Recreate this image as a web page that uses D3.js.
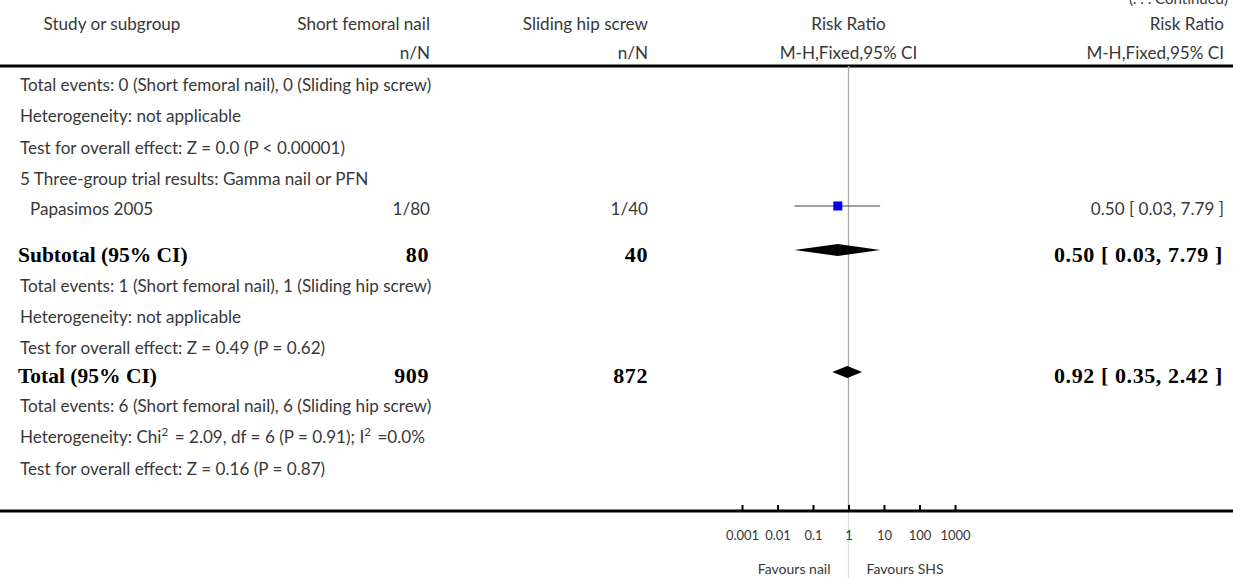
<!DOCTYPE html>
<html><head><meta charset="utf-8">
<script src="https://cdn.jsdelivr.net/npm/d3@7"></script>
<style>
html,body{margin:0;padding:0;background:#fff;}
svg{display:block;}
</style></head>
<body>
<svg id="c" width="1233" height="578"></svg>
<script>
// ---- data ----
const headerCols = ["Study or subgroup", "Short femoral nail", "Sliding hip screw", "Risk Ratio", "Risk Ratio"];
const headerSub = ["", "n/N", "n/N", "M-H,Fixed,95% CI", "M-H,Fixed,95% CI"];

const studyNames = ["Papasimos 2005"];
const studyNail = ["1/80"];
const studySHS = ["1/40"];
const studyRR = [0.50];
const studyLo = [0.03];
const studyHi = [7.79];
const studyCI = ["0.50 [ 0.03, 7.79 ]"];

const summaryLabels = ["Subtotal (95% CI)", "Total (95% CI)"];
const summaryNail = ["80", "909"];
const summarySHS = ["40", "872"];
const summaryRR = [0.50, 0.92];
const summaryLo = [0.03, 0.35];
const summaryHi = [7.79, 2.42];
const summaryCI = ["0.50 [ 0.03, 7.79 ]", "0.92 [ 0.35, 2.42 ]"];

const noteLines = [
  "Total events: 0 (Short femoral nail), 0 (Sliding hip screw)",
  "Heterogeneity: not applicable",
  "Test for overall effect: Z = 0.0 (P < 0.00001)",
  "5 Three-group trial results: Gamma nail or PFN",
  "Total events: 1 (Short femoral nail), 1 (Sliding hip screw)",
  "Heterogeneity: not applicable",
  "Test for overall effect: Z = 0.49 (P = 0.62)",
  "Total events: 6 (Short femoral nail), 6 (Sliding hip screw)",
  "Heterogeneity: Chi^2 = 2.09, df = 6 (P = 0.91); I^2 =0.0%",
  "Test for overall effect: Z = 0.16 (P = 0.87)"
];

const axisTicks = [0.001, 0.01, 0.1, 1, 10, 100, 1000];
const tickLabels = ["0.001", "0.01", "0.1", "1", "10", "100", "1000"];
const favourLabels = ["Favours nail", "Favours SHS"];

// ---- layout ----
const W = 1233, H = 578;
const sans = "Lato, 'Open Sans', sans-serif";
const serif = "'Liberation Serif', 'DejaVu Serif', serif";
const txtCol = "#383838";
const fs = 17.1;
const leftX = 20, col2 = 430, col3 = 648, col5 = 1224;
const topRule = 66, axisY = 511;
const noteY = [85, 116, 148, 179, 286, 317, 348, 406, 437, 469];
const studyY = [209];
const markY = [206];
const summaryY = [250, 372];
const summaryTextY = [255, 376];

const svg = d3.select("#c");
const x = d3.scaleLog().domain([0.001, 1000]).range([742, 955]);
const midX = x(1);

// continued label (cut at top edge, as in the reference)
svg.append("text").attr("x", col5 + 4).attr("y", 4).attr("text-anchor", "end")
  .attr("font-family", sans).attr("font-size", 15).attr("fill", txtCol)
  .text("(. . .   Continued)");

// headers
const hx = [112, col2, col3, midX, col5];
const ha = ["middle", "end", "end", "middle", "end"];
headerCols.forEach((h, i) => {
  svg.append("text").attr("x", hx[i]).attr("y", 24).attr("dy", "0.35em").attr("text-anchor", ha[i])
    .attr("font-family", sans).attr("font-size", fs).attr("fill", txtCol).text(h);
  if (headerSub[i]) svg.append("text").attr("x", hx[i]).attr("y", 53).attr("dy", "0.35em").attr("text-anchor", ha[i])
    .attr("font-family", sans).attr("font-size", fs).attr("fill", txtCol).text(headerSub[i]);
});

// rules
svg.append("line").attr("x1", 0).attr("x2", W).attr("y1", topRule).attr("y2", topRule)
  .attr("stroke", "#000").attr("stroke-width", 3);
svg.append("line").attr("x1", midX).attr("x2", midX).attr("y1", topRule).attr("y2", axisY)
  .attr("stroke", "#aaa").attr("stroke-width", 1.3);
svg.append("line").attr("x1", midX).attr("x2", midX).attr("y1", axisY).attr("y2", H)
  .attr("stroke", "#ddd").attr("stroke-width", 1.3);
svg.append("line").attr("x1", 0).attr("x2", W).attr("y1", axisY).attr("y2", axisY)
  .attr("stroke", "#000").attr("stroke-width", 3);

// notes
noteLines.forEach((t, i) => {
  const el = svg.append("text").attr("x", leftX).attr("y", noteY[i]).attr("dy", "0.35em")
    .attr("font-family", sans).attr("font-size", fs).attr("fill", txtCol);
  const parts = t.split(/\^2/);
  parts.forEach((p, j) => {
    el.append("tspan").text(p);
    if (j < parts.length - 1) {
      el.append("tspan").attr("font-size", 11.5).attr("dy", "-0.6em").text("2");
      el.append("tspan").attr("dy", "0.41em").text("\u2009");
    }
  });
});

// studies
studyNames.forEach((n, i) => {
  const y = studyY[i];
  const g = svg.append("g").attr("font-family", sans).attr("font-size", fs).attr("fill", txtCol);
  g.append("text").attr("x", leftX + 10).attr("y", y).attr("dy", "0.35em").text(n);
  g.append("text").attr("x", col2).attr("y", y).attr("dy", "0.35em").attr("text-anchor", "end").text(studyNail[i]);
  g.append("text").attr("x", col3).attr("y", y).attr("dy", "0.35em").attr("text-anchor", "end").text(studySHS[i]);
  g.append("text").attr("x", col5).attr("y", y).attr("dy", "0.35em").attr("text-anchor", "end").text(studyCI[i]);
  const my = markY[i];
  svg.append("line").attr("x1", x(studyLo[i])).attr("x2", x(studyHi[i])).attr("y1", my).attr("y2", my)
    .attr("stroke", "#444").attr("stroke-width", 1);
  svg.append("rect").attr("x", x(studyRR[i]) - 4.5).attr("y", my - 4.5).attr("width", 9).attr("height", 9)
    .attr("fill", "#0000ee");
  svg.append("circle").attr("cx", x(studyRR[i])).attr("cy", my).attr("r", 0.7).attr("fill", "#000");
});

// summaries
summaryLabels.forEach((n, i) => {
  const y = summaryTextY[i];
  const g = svg.append("g").attr("font-family", serif).attr("font-weight", "bold").attr("fill", "#000");
  g.append("text").attr("x", leftX - 2).attr("y", y).attr("dy", "0.33em").attr("font-size", 21.5).text(n);
  const num = g.append("g").attr("font-size", 22).attr("letter-spacing", 0.6);
  num.append("text").attr("x", col2 - 1).attr("y", y).attr("dy", "0.33em").attr("text-anchor", "end").text(summaryNail[i]);
  num.append("text").attr("x", col3).attr("y", y).attr("dy", "0.33em").attr("text-anchor", "end").text(summarySHS[i]);
  num.append("text").attr("x", col5 - 1).attr("y", y).attr("dy", "0.33em").attr("text-anchor", "end").text(summaryCI[i]);
  const dy = summaryY[i], h = 6;
  const pts = [[x(summaryLo[i]), dy], [x(summaryRR[i]), dy - h], [x(summaryHi[i]), dy], [x(summaryRR[i]), dy + h]];
  svg.append("path").attr("d", d3.line()(pts) + "Z").attr("fill", "#000");
});

// axis
const axis = d3.axisBottom(x).tickValues(axisTicks).tickSize(-6).tickPadding(20)
  .tickFormat((d, i) => tickLabels[i]);
const ag = svg.append("g").attr("transform", `translate(0,${axisY})`).call(axis);
ag.select(".domain").remove();
ag.selectAll(".tick line").attr("stroke", "#000").attr("stroke-width", 2);
ag.selectAll(".tick text").attr("font-family", sans).attr("font-size", 13).attr("fill", txtCol);

svg.append("text").attr("x", midX - 18).attr("y", 569).attr("dy", "0.35em").attr("text-anchor", "end")
  .attr("font-family", sans).attr("font-size", 14).attr("fill", txtCol).text(favourLabels[0]);
svg.append("text").attr("x", midX + 18).attr("y", 569).attr("dy", "0.35em").attr("text-anchor", "start")
  .attr("font-family", sans).attr("font-size", 14).attr("fill", txtCol).text(favourLabels[1]);
</script>
</body></html>
